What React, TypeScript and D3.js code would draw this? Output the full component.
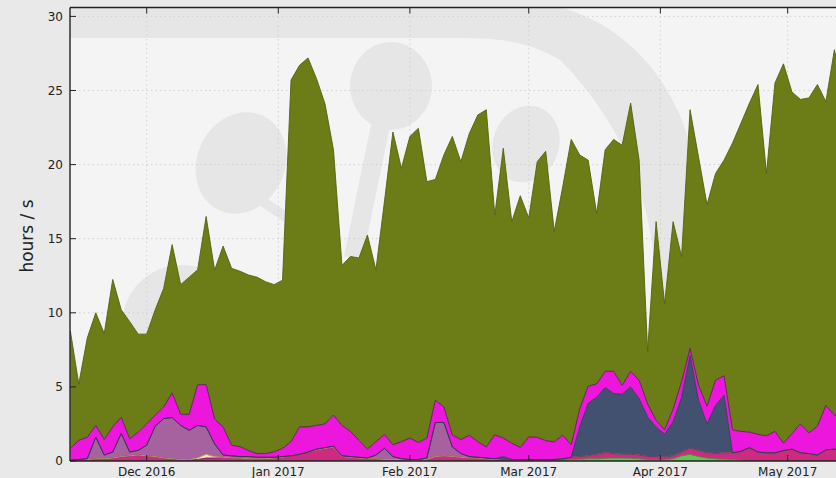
import * as d3 from 'd3';

// sampling: one point every second day
const startDate = new Date(2016, 10, 13);
const dates = d3.timeDay.range(startDate, new Date(2017, 4, 16), 2);

const yTicks = [0, 5, 10, 15, 20, 25, 30];
const monthTicks = [
  new Date(2016, 11, 1), new Date(2017, 0, 1), new Date(2017, 1, 1),
  new Date(2017, 2, 1), new Date(2017, 3, 1), new Date(2017, 4, 1),
];

const green = [
  0, 0, 0, 0, 0, 0, 0, 0, 0, 0, 0, 0, 0, 0, 0, 0, 0, 0, 0, 0,
  0, 0, 0, 0, 0, 0, 0, 0, 0, 0, 0, 0, 0, 0, 0, 0, 0, 0, 0, 0,
  0, 0, 0, 0, 0, 0, 0, 0, 0, 0, 0, 0, 0, 0, 0, 0, 0, 0, 0.05, 0.1,
  0.12, 0.15, 0.15, 0.18, 0.2, 0.2, 0.18, 0.15, 0.1, 0.1, 0.1, 0.15, 0.35, 0.45, 0.3, 0.2, 0.15, 0.12, 0.1, 0.05,
  0, 0, 0, 0, 0, 0, 0, 0, 0, 0, 0, 0,
];
const crimson = [
  0.05, 0.08, 0.1, 0.15, 0.15, 0.2, 0.3, 0.35, 0.4, 0.35, 0.3, 0.2, 0.15, 0.1, 0.08, 0.1, 0.2, 0.2, 0.25, 0.2,
  0.2, 0.15, 0.15, 0.15, 0.2, 0.25, 0.35, 0.45, 0.6, 0.75, 0.85, 0.95, 0.3, 0.25, 0.2, 0.15, 0.15, 0.1, 0.1, 0.1,
  0.05, 0.05, 0.1, 0.3, 0.35, 0.3, 0.25, 0.2, 0.2, 0.15, 0.1, 0.1, 0.1, 0.1, 0.1, 0.1, 0.1, 0.1, 0.1, 0.15,
  0.18, 0.2, 0.3, 0.37, 0.3, 0.25, 0.27, 0.25, 0.2, 0.2, 0.15, 0.2, 0.25, 0.4, 0.4, 0.35, 0.35, 0.43, 0.45, 0.6,
  0.9, 0.6, 0.55, 0.55, 0.7, 0.8, 0.55, 0.5, 0.4, 0.75, 0.8, 0.7,
];
const wheat = [
  0, 0, 0, 0, 0, 0, 0, 0, 0, 0, 0, 0, 0, 0, 0, 0.1, 0.25, 0.08, 0, 0,
  0, 0, 0, 0, 0, 0, 0, 0, 0, 0, 0, 0, 0, 0, 0, 0, 0, 0, 0, 0,
  0, 0, 0, 0, 0, 0, 0, 0, 0, 0, 0, 0, 0, 0, 0, 0, 0, 0, 0, 0,
  0, 0, 0, 0, 0, 0, 0, 0, 0, 0, 0, 0, 0, 0, 0, 0, 0, 0, 0, 0,
  0, 0, 0, 0, 0, 0, 0, 0, 0, 0, 0, 0,
];
const mauve = [
  0, 0.02, 0.05, 1.45, 0.25, 0.4, 1.55, 0.25, 0.32, 0.71, 2.05, 2.66, 2.78, 2.3, 1.99, 2.2, 1.85, 0.87, 0.15, 0.15,
  0.1, 0.15, 0.1, 0.1, 0.05, 0.05, 0, 0, 0, 0.05, 0.05, 0.05, 0.05, 0.05, 0.05, 0.05, 0.25, 0.75, 0.2, 0.05,
  0.05, 0.05, 0.1, 2.3, 2.25, 0.65, 0.25, 0.1, 0.05, 0.05, 0.05, 0, 0, 0, 0, 0, 0, 0, 0, 0,
  0, 0, 0, 0, 0, 0, 0, 0, 0, 0, 0, 0, 0, 0, 0, 0, 0, 0, 0, 0,
  0, 0, 0, 0, 0, 0, 0, 0, 0, 0, 0, 0,
];
const slate = [
  0, 0, 0, 0, 0, 0, 0, 0, 0, 0, 0, 0, 0, 0, 0, 0, 0, 0, 0, 0,
  0, 0, 0, 0, 0, 0, 0, 0, 0, 0, 0, 0, 0, 0, 0, 0, 0, 0, 0, 0,
  0, 0, 0, 0, 0, 0, 0, 0, 0, 0, 0, 0.2, 0, 0, 0, 0, 0, 0, 0, 0,
  2.0, 3.55, 3.85, 4.4, 4.05, 4.05, 4.55, 3.8, 2.67, 2.0, 1.55, 2.29, 3.7, 6.25, 3.4, 1.95, 3.26, 3.89, 0, 0,
  0, 0, 0, 0, 0, 0, 0, 0, 0, 0, 0, 0,
];
const magenta = [
  0.8, 1.3, 1.45, 0.8, 1.05, 1.7, 1.1, 0.9, 1.23, 1.44, 0.75, 0.79, 1.67, 0.75, 1.08, 2.75, 2.85, 1.68, 1.9, 0.71,
  0.67, 0.4, 0.25, 0.25, 0.37, 0.55, 0.95, 1.85, 1.7, 1.6, 1.6, 2.1, 2.05, 1.7, 1.15, 0.6, 0.9, 0.95, 0.8, 1.15,
  1.45, 1.15, 1.35, 1.5, 1.05, 0.8, 0.95, 1.44, 1.05, 0.75, 1.62, 1.25, 1.1, 0.82, 1.52, 1.5, 1.27, 1.19, 1.59, 0.85,
  1.2, 1.15, 0.9, 1.1, 1.5, 0.6, 1.05, 1.25, 0.88, 0.45, 0.3, 0.86, 1.04, 0.5, 1.0, 1.2, 1.69, 1.31, 1.55, 1.35,
  1.05, 1.2, 1.15, 1.45, 0.5, 1.05, 1.95, 1.4, 1.95, 3.0, 2.3, 2.3,
];
const olive = [
  7.95, 3.8, 6.7, 7.6, 7.15, 9.95, 7.25, 7.9, 6.61, 6.06, 7.1, 8.0, 10.0, 8.75, 9.25, 7.75, 11.35, 10.05, 12.2, 11.94,
  11.83, 11.85, 11.9, 11.6, 11.28, 11.35, 24.4, 24.4, 24.9, 23.4, 21.6, 17.9, 10.8, 11.8, 12.3, 14.45, 11.6, 15.7, 21.1, 18.45,
  20.35, 21.2, 17.3, 14.9, 17.0, 20.15, 18.75, 20.36, 22.05, 22.75, 14.83, 19.55, 14.95, 16.98, 14.78, 18.6, 19.53, 14.21, 16.76, 20.6,
  17.15, 15.25, 11.5, 14.95, 15.65, 16.2, 18.1, 14.85, 3.55, 13.4, 8.5, 12.65, 8.46, 16.1, 15.4, 13.6, 13.95, 14.55, 19.35, 20.8,
  22.2, 23.6, 17.7, 23.5, 25.6, 23.05, 21.9, 22.6, 23.05, 20.5, 24.65, 22.0,
];

const series = [
  { key: 'green', values: green, fill: '#63c251', edge: '#3f8a33' },
  { key: 'crimson', values: crimson, fill: '#cf2a82', edge: '#7d1550' },
  { key: 'wheat', values: wheat, fill: '#f2e6b8', edge: '#b8a060' },
  { key: 'mauve', values: mauve, fill: '#a5629e', edge: '#6b2d66' },
  { key: 'slate', values: slate, fill: '#41516f', edge: '#2c3850' },
  { key: 'magenta', values: magenta, fill: '#ec16dc', edge: '#5c1a55' },
  { key: 'olive', values: olive, fill: '#6c7c16', edge: '#55620f' },
];

const App = () => {
  const width = 836;
  const height = 478;
  const plotLeft = 70;
  const plotTop = 7.5;
  const plotBottom = 461;

  const x = d3.scaleTime()
    .domain([new Date(2016, 11, 1), new Date(2017, 4, 1)])
    .range([146.7, 787.7]);
  const y = d3.scaleLinear().domain([0, 30.6]).range([plotBottom, plotTop]);

  const rows = dates.map((d, i) => {
    const r: any = { date: d };
    series.forEach(s => { r[s.key] = s.values[i]; });
    return r;
  });
  const stacked = d3.stack().keys(series.map(s => s.key))(rows);

  const area = d3.area<any>()
    .x(d => x(d.data.date))
    .y0(d => y(d[0]))
    .y1(d => y(d[1]));
  const topLine = d3.line<any>()
    .x(d => x(d.data.date))
    .y(d => y(d[1]));

  const fmt = d3.timeFormat('%b %Y');
  const font = '"DejaVu Sans", sans-serif';

  return (
    <svg width={width} height={height} style={{ position: 'fixed', left: 0, top: 0, display: 'block' }}>
      <defs>
        <clipPath id="plot-clip">
          <rect x={plotLeft} y={plotTop} width={width - plotLeft + 10} height={plotBottom - plotTop} />
        </clipPath>
      </defs>
      <rect x={0} y={0} width={width} height={height} fill="#e9e9e9" />
      <rect x={plotLeft} y={plotTop} width={width - plotLeft + 10} height={plotBottom - plotTop} fill="#f4f4f4" />

      {/* watermark logo behind the data */}
      <g clipPath="url(#plot-clip)" fill="#e6e6e6">
        <path d="M0 0 L520 0 C640 10,705 110,702 240 C700 290,690 330,680 360 L655 330 C662 240,640 140,560 60 C530 42,500 38,460 38 L0 38 Z" />
        <circle cx={182} cy={325} r={60} />
        <ellipse cx={241} cy={163} rx={44} ry={52} transform="rotate(25 241 163)" />
        <path d="M258 192 L290 214 L284 222 L252 200 Z" />
        <ellipse cx={391} cy={86} rx={41} ry={44} />
        <path d="M372 120 L390 126 L362 262 L344 256 Z" />
        <ellipse cx={526} cy={144} rx={33} ry={39} transform="rotate(20 526 144)" />
      </g>

      <g clipPath="url(#plot-clip)">
        {/* dotted grid, under the areas */}
        {yTicks.map(t => (
          <line key={'gy' + t} x1={plotLeft} x2={width} y1={y(t)} y2={y(t)}
            stroke="#d2d2d2" strokeDasharray="1.5,3" />
        ))}
        {monthTicks.map(t => (
          <line key={'gx' + t.getTime()} x1={x(t)} x2={x(t)} y1={plotTop} y2={plotBottom}
            stroke="#d2d2d2" strokeDasharray="1.5,3" />
        ))}
        {stacked.map((layer, i) => (
          <path key={series[i].key} d={area(layer as any) ?? ''} fill={series[i].fill} />
        ))}
        {stacked.map((layer, i) => (
          <path key={series[i].key + '-edge'} d={topLine(layer as any) ?? ''} fill="none"
            stroke={series[i].edge} strokeWidth={0.9} strokeLinejoin="round" />
        ))}
      </g>

      {/* spines */}
      <g stroke="#222" strokeWidth={1.4} fill="none">
        <line x1={plotLeft} x2={plotLeft} y1={plotTop} y2={plotBottom} />
        <line x1={plotLeft} x2={width} y1={plotTop} y2={plotTop} />
        <line x1={plotLeft} x2={width} y1={plotBottom} y2={plotBottom} />
      </g>

      {/* ticks */}
      <g stroke="#222" strokeWidth={1}>
        {yTicks.map(t => (
          <line key={'ty' + t} x1={plotLeft} x2={plotLeft + 6} y1={y(t)} y2={y(t)} />
        ))}
        {monthTicks.map(t => (
          <g key={'tx' + t.getTime()}>
            <line x1={x(t)} x2={x(t)} y1={plotTop} y2={plotTop + 6} />
            <line x1={x(t)} x2={x(t)} y1={plotBottom} y2={plotBottom - 6} />
          </g>
        ))}
      </g>

      <g fontFamily={font} fontSize={12} fill="#222">
        {yTicks.map(t => (
          <text key={'ly' + t} x={plotLeft - 7} y={y(t)} dy="0.35em" textAnchor="end">{t}</text>
        ))}
        {monthTicks.map(t => (
          <text key={'lx' + t.getTime()} x={x(t)} y={476} textAnchor="middle">{fmt(t)}</text>
        ))}
      </g>

      <text transform="translate(33, 236) rotate(-90)" textAnchor="middle"
        fontFamily={font} fontSize={17} fill="#222">hours / s</text>
    </svg>
  );
};

export default App;
